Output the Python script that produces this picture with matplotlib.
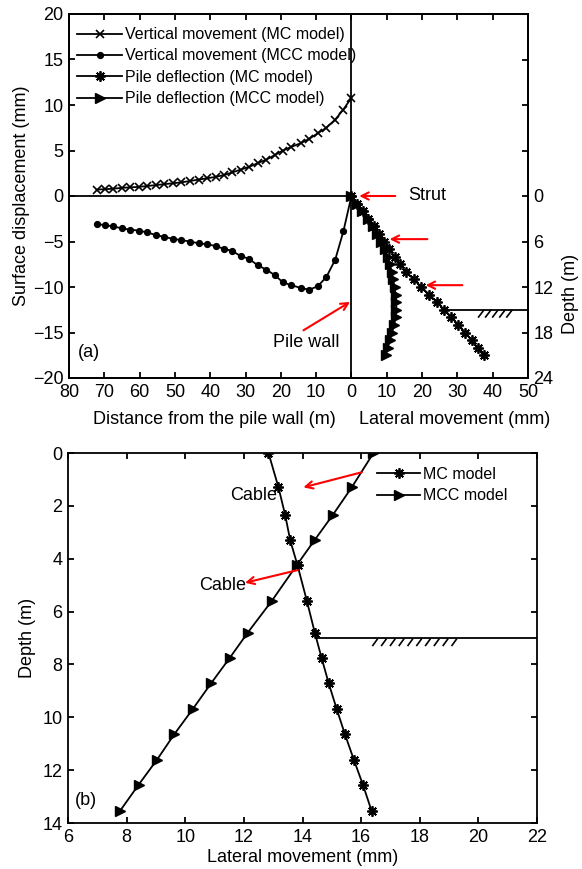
import numpy as np
import matplotlib
matplotlib.use("Agg")
import matplotlib.pyplot as plt

plt.rcParams['font.family'] = ['Liberation Sans', 'DejaVu Sans']
plt.rcParams['font.size'] = 13

# ---------------- data (panel a) ----------------
dist_a = [72.2, 69.9, 67.5, 65.0, 62.6, 60.3, 57.8, 55.4, 53.0, 50.6, 48.2, 45.7, 43.3,
          40.8, 38.5, 36.1, 33.7, 31.4, 29.0, 26.6, 24.1, 21.7, 19.4, 17.0, 14.4, 11.9,
          9.5, 7.1, 4.6, 2.3, 0.0]
vert_mc = [0.7, 0.75, 0.8, 0.9, 0.95, 1.0, 1.1, 1.2, 1.3, 1.4, 1.5, 1.65, 1.8, 1.95,
           2.1, 2.3, 2.6, 2.9, 3.2, 3.6, 4.0, 4.5, 5.0, 5.4, 5.8, 6.3, 6.9, 7.5, 8.4,
           9.5, 10.8]
vert_mcc = [-3.08, -3.2, -3.34, -3.56, -3.7, -3.8, -4.0, -4.3, -4.5, -4.7, -4.85, -5.0,
            -5.2, -5.3, -5.5, -5.8, -6.05, -6.6, -6.9, -7.6, -8.1, -8.7, -9.5, -9.8,
            -10.1, -10.3, -9.9, -8.9, -7.0, -3.9, 0.0]

depth_a = [0, 1, 2, 3, 4, 5, 6, 7, 8, 9, 10, 11, 12, 13, 14, 15, 16, 17, 18, 19, 20, 21]
defl_mc_a = [0, 1.6, 3.2, 4.8, 6.3, 7.8, 9.3, 10.7, 12.2, 13.8, 15.5, 17.6, 19.8, 22.0,
             24.2, 26.3, 28.3, 30.3, 32.2, 34.0, 35.7, 37.4]
defl_mcc_a = [0, 1.6, 3.1, 4.6, 6.0, 7.3, 8.5, 9.5, 10.3, 10.9, 11.4, 11.8, 12.2, 12.5,
              12.7, 12.7, 12.5, 12.1, 11.5, 10.9, 10.3, 9.7]

exc_depth_a = 15.0
exc_start_a = 26.9
hatch_a = (36.0, 44.0, 5)

# ---------------- data (panel b) ----------------
depth_b = [0, 1.3, 2.35, 3.3, 4.25, 5.6, 6.8, 7.75, 8.7, 9.7, 10.65, 11.6, 12.55, 13.55]
defl_mc_b = [12.84, 13.18, 13.41, 13.58, 13.83, 14.15, 14.42, 14.65, 14.89, 15.17,
             15.45, 15.75, 16.06, 16.36]
defl_mcc_b = [16.42, 15.68, 15.03, 14.41, 13.8, 12.95, 12.13, 11.52, 10.89, 10.25,
              9.62, 9.04, 8.41, 7.77]

exc_depth_b = 7.0
exc_start_b = 14.49
hatch_b = (16.4, 19.1, 10)

x_ticks_a = list(range(-80, 51, 10))
y_ticks_a = list(range(-20, 21, 5))
depth_ticks_a = [-24, -18, -12, -6, 0, 6, 12, 18, 24]
depth_labels_a = ['', '', '', '', '0', '6', '12', '18', '24']

# ---------------- figure ----------------
W, H = 582, 869
fig = plt.figure(figsize=(W / 100, H / 100), dpi=100)

def fx(px):
    return px / W

def fy(py):
    return 1 - py / H

ax = fig.add_axes([fx(69), fy(378), fx(528) - fx(69), fy(14) - fy(378)])
axb = fig.add_axes([fx(68), fy(823), fx(537) - fx(68), fy(453) - fy(823)])

LW = 1.3
FS_LEG = 11.5
tick_kw = dict(direction='in', length=4, width=1.3, pad=4)

# ---- panel (a) ----
ax.hlines(0, x_ticks_a[0], 0, color='black', lw=LW)
ax.axvline(0, color='black', lw=LW)
neg_dist = [-d for d in dist_a]
h1, = ax.plot(neg_dist, vert_mc, color='black', lw=LW, marker='x', ms=5.5, mew=1.2,
              label='Vertical movement (MC model)')
h2, = ax.plot(neg_dist, vert_mcc, color='black', lw=LW, marker='o', ms=4.2,
              label='Vertical movement (MCC model)')
ax.set_xlim(-80, 50)
ax.set_ylim(-20, 20)
ax.set_xticks(x_ticks_a)
ax.set_xticklabels([str(abs(v)) for v in x_ticks_a])
ax.set_yticks(y_ticks_a)
ax.tick_params(axis='both', which='both', top=True, right=False, **tick_kw)
ax.set_ylabel('Surface displacement (mm)')
ax.yaxis.set_label_coords((30 - 69) / 459, 0.5)

ax2 = ax.twinx()
h3, = ax2.plot(defl_mc_a, depth_a, color='black', lw=LW, marker=(8, 2, 0), ms=7.5, mew=1.3,
               label='Pile deflection (MC model)')
h4, = ax2.plot(defl_mcc_a, depth_a, color='black', lw=LW, marker='>', ms=7.5,
               label='Pile deflection (MCC model)')
ax2.set_ylim(24, -24)
ax2.set_yticks(depth_ticks_a)
ax2.set_yticklabels(depth_labels_a)
ax2.tick_params(axis='y', **tick_kw)
ax2.set_ylabel('Depth (m)')
ax2.yaxis.set_label_coords((562 - 69) / 459, (378 - 294) / 364)

ax2.hlines(exc_depth_a, exc_start_a, 50, color='black', lw=LW)
hx = np.linspace(hatch_a[0], hatch_a[1], hatch_a[2])
for x0 in hx:
    ax2.plot([x0, x0 + 1.4], [exc_depth_a + 0.95, exc_depth_a + 0.1], color='black', lw=1.2)

for s in list(ax.spines.values()) + list(ax2.spines.values()):
    s.set_linewidth(1.3)

ax.legend(handles=[h1, h2, h3, h4], loc='upper left', bbox_to_anchor=(0.017, 0.964),
          frameon=False, borderaxespad=0, borderpad=0, handlelength=2.85,
          handletextpad=0.15, labelspacing=0.4, fontsize=FS_LEG)

arrow_kw = dict(arrowstyle='->', color='red', lw=1.5,
                mutation_scale=13, shrinkA=0, shrinkB=0)
ax.annotate('', xy=(2.2, 0), xytext=(12.4, 0), arrowprops=arrow_kw)
ax.text(16.1, 0, 'Strut', va='center', ha='left')
ax.annotate('', xy=(10.8, -4.74), xytext=(21.5, -4.74), arrowprops=arrow_kw)
ax.annotate('', xy=(21.0, -9.8), xytext=(31.4, -9.8), arrowprops=arrow_kw)
ax.annotate('', xy=(-0.4, -11.64), xytext=(-13.6, -14.76), arrowprops=arrow_kw)
ax.text(-12.7, -16.1, 'Pile wall', va='center', ha='center')
ax.text(-77.5, -17.2, '(a)', va='center', ha='left')

fig.text(fx(214), fy(420), 'Distance from the pile wall (m)', ha='center', va='center')
fig.text(fx(455), fy(420), 'Lateral movement (mm)', ha='center', va='center')

# ---- panel (b) ----
axb.plot(defl_mc_b, depth_b, color='black', lw=LW, marker=(8, 2, 0), ms=7.5, mew=1.3,
         label='MC model')
axb.plot(defl_mcc_b, depth_b, color='black', lw=LW, marker='>', ms=7.5, label='MCC model')
axb.hlines(exc_depth_b, exc_start_b, 22, color='black', lw=LW)
hxb = np.linspace(hatch_b[0], hatch_b[1], hatch_b[2])
for x0 in hxb:
    axb.plot([x0, x0 + 0.15], [exc_depth_b + 0.28, exc_depth_b + 0.05], color='black', lw=1.2)
axb.set_xlim(6, 22)
axb.set_ylim(14, 0)
axb.set_xticks(range(6, 23, 2))
axb.set_yticks(range(0, 15, 2))
axb.tick_params(axis='both', which='both', top=True, right=True, **tick_kw)
axb.set_xlabel('Lateral movement (mm)', labelpad=2.5)
axb.set_ylabel('Depth (m)')
axb.yaxis.set_label_coords((36 - 68) / 469, 0.5)
for s in axb.spines.values():
    s.set_linewidth(1.3)
axb.legend(loc='upper left', bbox_to_anchor=(0.659, 0.962), frameon=False,
           borderaxespad=0, borderpad=0, handlelength=2.7, handletextpad=0.2,
           labelspacing=0.4, fontsize=FS_LEG)

axb.annotate('', xy=(14.03, 1.30), xytext=(16.02, 0.73), arrowprops=arrow_kw)
axb.text(12.33, 1.59, 'Cable', ha='center', va='center')
axb.annotate('', xy=(12.04, 4.91), xytext=(13.84, 4.43), arrowprops=arrow_kw)
axb.text(11.26, 5.0, 'Cable', ha='center', va='center')
axb.text(6.24, 13.14, '(b)', ha='left', va='center')

fig.savefig('out.png', dpi=100)
